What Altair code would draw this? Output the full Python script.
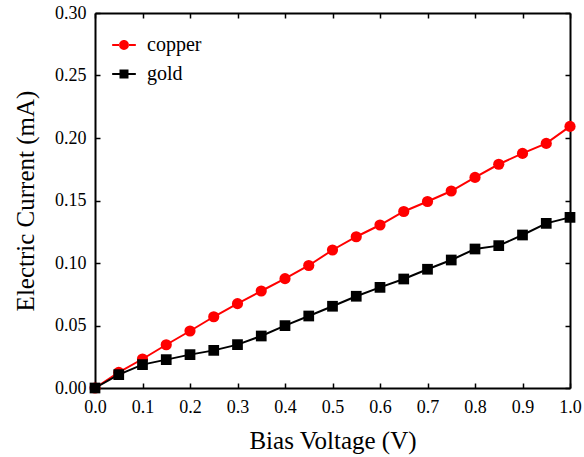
import altair as alt
import pandas as pd

# Bias voltage sweep (V)
voltage = [0.00, 0.05, 0.10, 0.15, 0.20, 0.25, 0.30, 0.35, 0.40, 0.45, 0.50,
           0.55, 0.60, 0.65, 0.70, 0.75, 0.80, 0.85, 0.90, 0.95, 1.00]
# Measured current (mA)
copper = [0.0000, 0.0125, 0.0232, 0.0346, 0.0456, 0.0570, 0.0675, 0.0776, 0.0875,
          0.0980, 0.1104, 0.1210, 0.1304, 0.1412, 0.1492, 0.1576, 0.1685, 0.1790,
          0.1877, 0.1957, 0.2093]
gold = [0.0000, 0.0107, 0.0187, 0.0227, 0.0267, 0.0301, 0.0347, 0.0416, 0.0499,
        0.0576, 0.0654, 0.0734, 0.0805, 0.0872, 0.0950, 0.1024, 0.1112, 0.1139,
        0.1224, 0.1317, 0.1365]
series = ["copper", "gold"]
colors = ["#ff0000", "#000000"]

rows = []
for name, vals in zip(series, [copper, gold]):
    for v, c in zip(voltage, vals):
        rows.append({"series": name, "voltage": v, "current": c})
df = pd.DataFrame(rows)

FONT = "Liberation Serif"

# Legend glyphs: a short line segment with the series marker in the middle
CIRCLE_GLYPH = ("M-0.42,0 A0.42,0.42 0 1,0 0.42,0 A0.42,0.42 0 1,0 -0.42,0 Z "
                "M-1,-0.085 L-0.4,-0.085 L-0.4,0.085 L-1,0.085 Z "
                "M0.4,-0.085 L1,-0.085 L1,0.085 L0.4,0.085 Z")
SQUARE_GLYPH = ("M-0.38,-0.38 L0.38,-0.38 L0.38,0.38 L-0.38,0.38 Z "
                "M-1,-0.085 L-0.38,-0.085 L-0.38,0.085 L-1,0.085 Z "
                "M0.38,-0.085 L1,-0.085 L1,0.085 L0.38,0.085 Z")

x_scale = alt.Scale(domain=[0, 1.0], nice=False)
y_scale = alt.Scale(domain=[0, 0.30], nice=False)
color_scale = alt.Scale(domain=series, range=colors)
glyph_scale = alt.Scale(domain=series, range=[CIRCLE_GLYPH, SQUARE_GLYPH])

x_ticks = [i / 10 for i in range(11)]
y_ticks = [round(i * 0.05, 2) for i in range(7)]
inward = alt.ExprRef(expr="-5")

x_axis = alt.Axis(
    title="Bias Voltage (V)", values=x_ticks, format=".1f", labelFlush=False,
    grid=False, tickSize=inward, labelPadding=15, titleX=237.5, titleY=52,
    titleBaseline="middle",
)
y_axis = alt.Axis(
    title="Electric Current (mA)", values=y_ticks, format=".2f", labelFlush=False,
    grid=False, tickSize=inward, labelPadding=14, titleX=-70, titleY=187.5,
    titleBaseline="middle", titleAngle=-90,
)

legend = alt.Legend(
    title=None, orient="none", legendX=17, legendY=20,
    labelFont=FONT, labelFontSize=20, labelColor="black",
    symbolSize=560, labelOffset=11, rowPadding=7,
    symbolStrokeWidth=0, symbolOpacity=1,
)

base = alt.Chart(df)
X = alt.X("voltage:Q", scale=x_scale, axis=None)
Y = alt.Y("current:Q", scale=y_scale, axis=None)


def series_layers(name, color, shape, size):
    sub = base.transform_filter(alt.datum.series == name)
    line = sub.mark_line(strokeWidth=2, color=color).encode(x=X, y=Y)
    pts = sub.mark_point(
        filled=True, opacity=1, size=size, shape=shape, color=color
    ).encode(x=X, y=Y)
    return line, pts


copper_line, copper_pts = series_layers("copper", "#ff0000", "circle", 125)
gold_line, gold_pts = series_layers("gold", "#000000", "square", 115)

# Axes layer (bottom/left) plus the key: its points have zero size,
# the legend keeps full-size symbols
key = base.mark_point(filled=True, opacity=1, size=0).encode(
    x=alt.X("voltage:Q", scale=x_scale, axis=x_axis),
    y=alt.Y("current:Q", scale=y_scale, axis=y_axis),
    color=alt.Color("series:N", scale=color_scale, legend=legend),
    shape=alt.Shape("series:N", scale=glyph_scale, legend=legend),
)

# Mirrored tick marks on the top and right edges of the frame
mirror = base.mark_point(opacity=0).encode(
    x=alt.X("voltage:Q", scale=x_scale, axis=alt.Axis(
        orient="top", title=None, labels=False, grid=False,
        values=x_ticks, tickSize=inward)),
    y=alt.Y("current:Q", scale=y_scale, axis=alt.Axis(
        orient="right", title=None, labels=False, grid=False,
        values=y_ticks, tickSize=inward)),
)

chart = alt.layer(
    key, copper_line, copper_pts, gold_line, gold_pts, mirror
).resolve_axis(
    x="independent", y="independent"
).properties(
    width=475, height=375,
    autosize=alt.AutoSizeParams(type="none"),
    padding={"left": 95, "top": 13, "right": 14, "bottom": 69},
    background="white",
).configure_view(
    stroke=None,
).configure_axis(
    domainColor="black", domainWidth=2, tickColor="black", tickWidth=1.5,
    labelFont=FONT, labelFontSize=18, labelColor="black",
    titleFont=FONT, titleFontSize=25, titleColor="black", titleFontWeight="normal",
)

chart.save("out.html", embed_options={"renderer": "svg", "actions": False})
